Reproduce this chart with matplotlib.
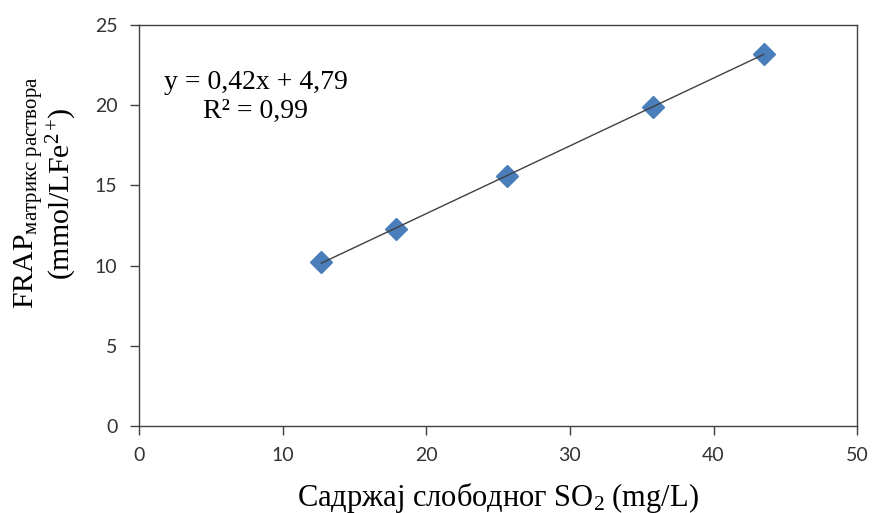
import numpy as np
import matplotlib
matplotlib.use('Agg')
import matplotlib.pyplot as plt

plt.rcParams['mathtext.fontset'] = 'custom'
plt.rcParams['mathtext.rm'] = 'Liberation Serif'
plt.rcParams['mathtext.it'] = 'Liberation Serif:italic'

# data
so2 = [12.7, 17.9, 25.6, 35.8, 43.5]
frap = [10.2, 12.3, 15.6, 19.9, 23.2]
x_ticks = [0, 10, 20, 30, 40, 50]
y_ticks = [0, 5, 10, 15, 20, 25]
eq_text = 'y = 0,42x + 4,79'
r2_text = 'R² = 0,99'

fig = plt.figure(figsize=(8.72, 5.13), dpi=100)
ax = fig.add_axes([0.1594, 0.170, 0.8236, 0.781])

# trend line between first and last point
k, b = np.polyfit(so2, frap, 1)
xs = np.array([so2[0], so2[-1]])
ax.plot(xs, k * xs + b, color='#404040', lw=1.0, zorder=3)
ax.plot(so2, frap, linestyle='none', marker='D', markersize=11,
        color='#4a7ebb', zorder=2)

ax.set_xlim(0, 50)
ax.set_ylim(0, 25)
ax.set_xticks(x_ticks)
ax.set_yticks(y_ticks)
for s in ax.spines.values():
    s.set_color('#404040')
    s.set_linewidth(1.0)
ax.tick_params(direction='out', length=6.5, width=1.0, color='#404040',
               labelsize=14, labelcolor='#333333')
for lab in ax.get_xticklabels() + ax.get_yticklabels():
    lab.set_family('Lato')
ax.tick_params(axis='x', pad=9)
ax.tick_params(axis='y', pad=9)

fig.text(0.2935, 0.840, eq_text, family='Liberation Serif', fontsize=20,
         ha='center', va='center')
fig.text(0.2935, 0.782, r2_text, family='Liberation Serif', fontsize=20,
         ha='center', va='center')

fig.text(0.571, 0.030, r'$\mathrm{Садржај\ слободног\ SO_2\ (mg/L)}$',
         fontsize=22, ha='center', va='center')
fig.text(0.033, 0.624, r'$\mathrm{FRAP_{матрикс\ раствора}}$',
         fontsize=21.5, ha='center', va='center', rotation=90)
fig.text(0.071, 0.622, r'$\mathrm{(mmol/LFe^{2+}\!)}$',
         fontsize=21.5, ha='center', va='center', rotation=90)

fig.savefig('out.png', dpi=100)
